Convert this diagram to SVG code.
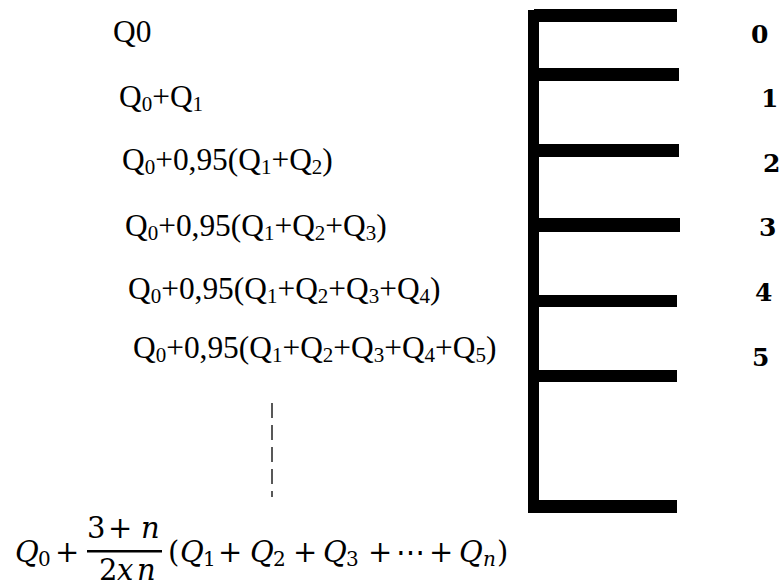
<svg xmlns="http://www.w3.org/2000/svg" width="782" height="587" viewBox="0 0 782 587">
<style>
.t{font-family:'Liberation Serif','Times New Roman',serif;font-size:31.4px;fill:#000}
.s{font-size:21px}
.lbl{font-family:'DejaVu Serif',serif;font-weight:bold;font-size:25px;fill:#000}
.m{font-family:'DejaVu Serif',serif;font-size:29px;fill:#000}
.mi{font-style:italic}
.ms{font-size:20px}
.bar{fill:#000}
</style>
<rect width="782" height="587" fill="#fff"/>
<g id="frame">
<rect class="bar" x="528" y="10" width="11" height="503"/>
<rect class="bar" x="534" y="9" width="143" height="13"/>
<rect class="bar" x="534" y="68" width="145" height="13"/>
<rect class="bar" x="534" y="144" width="145" height="13"/>
<rect class="bar" x="534" y="218" width="146" height="14"/>
<rect class="bar" x="534" y="295" width="143" height="12"/>
<rect class="bar" x="534" y="370" width="143" height="12"/>
<rect class="bar" x="533" y="500" width="144" height="13"/>
</g>
<g id="labels">
<text class="lbl" x="751" y="43">0</text>
<text class="lbl" x="761" y="107">1</text>
<text class="lbl" x="763" y="172">2</text>
<text class="lbl" x="759" y="236">3</text>
<text class="lbl" x="755" y="301">4</text>
<text class="lbl" x="752" y="366">5</text>
</g>
<g id="line0"><text class="t" x="113" y="42">Q0</text></g>
<g id="line1"><text class="t" x="119" y="107">Q<tspan class="s" dy="4">0</tspan><tspan dy="-4">+Q</tspan><tspan class="s" dy="4">1</tspan></text></g>
<g id="line2"><text class="t" x="122" y="170">Q<tspan class="s" dy="4">0</tspan><tspan dy="-4">+0,95(Q</tspan><tspan class="s" dy="4">1</tspan><tspan dy="-4">+Q</tspan><tspan class="s" dy="4">2</tspan><tspan dy="-4">)</tspan></text></g>
<g id="line3"><text class="t" x="125" y="236">Q<tspan class="s" dy="4">0</tspan><tspan dy="-4">+0,95(Q</tspan><tspan class="s" dy="4">1</tspan><tspan dy="-4">+Q</tspan><tspan class="s" dy="4">2</tspan><tspan dy="-4">+Q</tspan><tspan class="s" dy="4">3</tspan><tspan dy="-4">)</tspan></text></g>
<g id="line4"><text class="t" x="128" y="299">Q<tspan class="s" dy="4">0</tspan><tspan dy="-4">+0,95(Q</tspan><tspan class="s" dy="4">1</tspan><tspan dy="-4">+Q</tspan><tspan class="s" dy="4">2</tspan><tspan dy="-4">+Q</tspan><tspan class="s" dy="4">3</tspan><tspan dy="-4">+Q</tspan><tspan class="s" dy="4">4</tspan><tspan dy="-4">)</tspan></text></g>
<g id="line5"><text class="t" x="133" y="358">Q<tspan class="s" dy="4">0</tspan><tspan dy="-4">+0,95(Q</tspan><tspan class="s" dy="4">1</tspan><tspan dy="-4">+Q</tspan><tspan class="s" dy="4">2</tspan><tspan dy="-4">+Q</tspan><tspan class="s" dy="4">3</tspan><tspan dy="-4">+Q</tspan><tspan class="s" dy="4">4</tspan><tspan dy="-4">+Q</tspan><tspan class="s" dy="4">5</tspan><tspan dy="-4">)</tspan></text></g>
<g id="connectors">
<line x1="272" y1="403" x2="272" y2="497" stroke="#222" stroke-width="1.5" stroke-dasharray="15 7"/>
</g>
<g id="formula">
<text class="m mi" x="15" y="562">Q</text>
<text class="m ms" x="38" y="566">0</text>
<text class="m" x="55" y="562">+</text>
<text class="m" x="87" y="538">3</text>
<text class="m" x="108" y="538">+</text>
<text class="m mi" x="141" y="538">n</text>
<rect x="87" y="550" width="75" height="2.5" fill="#000"/>
<text class="m" x="99" y="580">2</text>
<text class="m mi" x="117" y="580">x</text>
<text class="m mi" font-size="16" x="137" y="580">n</text>
<text class="m" x="168" y="562">(</text>
<text class="m mi" x="180" y="562">Q</text>
<text class="m ms" x="203" y="566">1</text>
<text class="m" x="218" y="562">+</text>
<text class="m mi" x="250" y="562">Q</text>
<text class="m ms" x="273" y="566">2</text>
<text class="m" x="293" y="562">+</text>
<text class="m mi" x="323" y="562">Q</text>
<text class="m ms" x="346" y="566">3</text>
<text class="m" x="368" y="562">+</text>
<text class="m" x="396" y="562">⋯</text>
<text class="m" x="429" y="562">+</text>
<text class="m mi" x="459" y="562">Q</text>
<text class="m mi ms" x="483" y="566">n</text>
<text class="m" x="497" y="562">)</text>
</g>
</svg>
